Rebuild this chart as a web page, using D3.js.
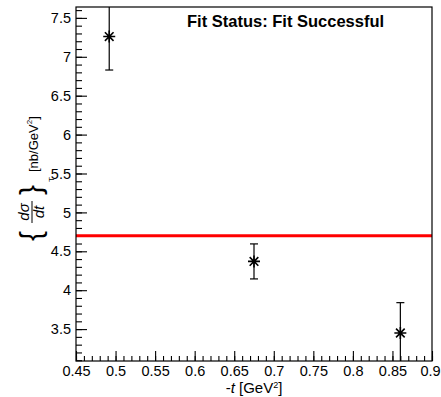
<!DOCTYPE html>
<html>
<head>
<meta charset="utf-8">
<script src="https://cdn.jsdelivr.net/npm/d3@7"></script>
<style>
	body { margin: 0; background: #fff; }
	svg { font-family: 'Liberation Sans', Arial, sans-serif; }
</style>
</head>
<body>
<svg id="chart" width="441" height="397"></svg>
<script>
// NOTE data
const tValues = [0.492, 0.675, 0.86];
const sigmaValues = [7.26, 4.37, 3.45];
const sigmaErrors = [0.43, 0.225, 0.39];
const fitLevel = [4.70];
const xTickLabels = [0.45, 0.5, 0.55, 0.6, 0.65, 0.7, 0.75, 0.8, 0.85, 0.9];
const yTickLabels = [3.5, 4, 4.5, 5, 5.5, 6, 6.5, 7, 7.5];
const xRange = [0.45, 0.9];
const yRange = [3.09, 7.64];
const fitStatus = 'Fit Status: Fit Successful';

const svg = d3.select('#chart'),
	margin = { top: 7, right: 9, bottom: 36, left: 76 },
	width = +svg.attr('width') - margin.left - margin.right,
	height = +svg.attr('height') - margin.top - margin.bottom;

const x = d3.scaleLinear().domain(xRange).range([0, width]);
const y = d3.scaleLinear().domain(yRange).range([height, 0]);

const g = svg
	.append('g')
	.attr('transform', 'translate(' + margin.left + ',' + margin.top + ')');

g.append('clipPath')
	.attr('id', 'clip')
	.append('rect')
	.attr('width', width)
	.attr('height', height);

// minor ticks
const xMinor = d3.range(45, 91).map((v) => v / 100);
const yMinor = d3.range(31, 77).map((v) => v / 10).filter((v) => v >= yRange[0] && v <= yRange[1]);

g.append('g')
	.attr('transform', 'translate(0,' + height + ')')
	.call(d3.axisBottom(x).tickValues(xMinor).tickSize(-5).tickFormat(''));
g.append('g')
	.call(d3.axisLeft(y).tickValues(yMinor).tickSize(-6).tickFormat(''));

// major ticks
const xAxis = g
	.append('g')
	.attr('transform', 'translate(0,' + height + ')')
	.call(d3.axisBottom(x).tickValues(xTickLabels).tickSize(-10).tickPadding(5).tickFormat(d3.format('')));
g.append('g')
	.call(d3.axisLeft(y).tickValues(yTickLabels).tickSize(-11).tickPadding(5).tickFormat(d3.format('')));

svg.selectAll('.domain').remove();
svg.selectAll('.tick line').attr('stroke', '#000').attr('stroke-width', 1.1);
svg.selectAll('.tick text')
	.attr('fill', '#000')
	.style('font-size', '14.5px')
	.style('font-family', "'Liberation Sans', Arial, sans-serif");

// last label sits at the window edge, nudge it in
xAxis.selectAll('.tick text')
	.filter((d) => d === xRange[1])
	.attr('dx', -2);

// fit line
const plot = g.append('g').attr('clip-path', 'url(#clip)');

plot.selectAll('.fit')
	.data(fitLevel)
	.enter()
	.append('line')
	.attr('class', 'fit')
	.attr('x1', 0)
	.attr('x2', width)
	.attr('y1', (d) => y(d))
	.attr('y2', (d) => y(d))
	.attr('stroke', '#ff0000')
	.attr('stroke-width', 3);

// points with error bars
const pts = tValues.map((t, i) => ({ t: t, s: sigmaValues[i], e: sigmaErrors[i] }));

const pg = plot.selectAll('.pt')
	.data(pts)
	.enter()
	.append('g')
	.attr('class', 'pt')
	.attr('stroke', '#000')
	.attr('stroke-width', 1.2);

pg.append('line')
	.attr('x1', (d) => x(d.t))
	.attr('x2', (d) => x(d.t))
	.attr('y1', (d) => y(d.s - d.e))
	.attr('y2', (d) => y(d.s + d.e));
pg.append('line')
	.attr('x1', (d) => x(d.t) - 4)
	.attr('x2', (d) => x(d.t) + 4)
	.attr('y1', (d) => y(d.s - d.e))
	.attr('y2', (d) => y(d.s - d.e));
pg.append('line')
	.attr('x1', (d) => x(d.t) - 4)
	.attr('x2', (d) => x(d.t) + 4)
	.attr('y1', (d) => y(d.s + d.e))
	.attr('y2', (d) => y(d.s + d.e));

// asterisk marker
const r = 6;
pg.append('path')
	.attr('stroke-width', 1.6)
	.attr('d', function (d) {
		var cx = x(d.t), cy = y(d.s), k = r * 0.72;
		return 'M' + (cx - r) + ',' + cy + 'H' + (cx + r) +
			'M' + cx + ',' + (cy - r) + 'V' + (cy + r) +
			'M' + (cx - k) + ',' + (cy - k) + 'L' + (cx + k) + ',' + (cy + k) +
			'M' + (cx - k) + ',' + (cy + k) + 'L' + (cx + k) + ',' + (cy - k);
	});

// frame
g.append('rect')
	.attr('width', width)
	.attr('height', height)
	.attr('fill', 'none')
	.attr('stroke', '#000')
	.attr('stroke-width', 1.2);

// fit status
svg.append('text')
	.attr('x', 187)
	.attr('y', 27)
	.attr('font-size', 16.5)
	.attr('font-weight', 'bold')
	.text(fitStatus);

// x title
const xt = svg.append('text')
	.attr('x', margin.left + width / 2)
	.attr('y', 393)
	.attr('text-anchor', 'middle')
	.attr('font-size', 15);
xt.append('tspan').text('-');
xt.append('tspan').attr('font-style', 'italic').text('t');
xt.append('tspan').text(' [GeV');
xt.append('tspan').attr('font-size', 9).attr('dy', -5).text('2');
xt.append('tspan').attr('dy', 5).text(']');

// y title (rotated)
const yt = svg.append('g').attr('transform', 'rotate(-90)');
yt.append('text').attr('x', -241).attr('y', 41).attr('font-size', 30).attr('font-weight', 300).text('{');
const fx = -212;
yt.append('text').attr('x', fx).attr('y', 29).attr('text-anchor', 'middle')
	.attr('font-size', 15).attr('font-style', 'italic').text('d\u03c3');
yt.append('line').attr('x1', fx - 11).attr('x2', fx + 11).attr('y1', 32).attr('y2', 32)
	.attr('stroke', '#000').attr('stroke-width', 1);
yt.append('text').attr('x', fx).attr('y', 44).attr('text-anchor', 'middle')
	.attr('font-size', 15).attr('font-style', 'italic').text('dt');
yt.append('text').attr('x', -195).attr('y', 41).attr('font-size', 30).attr('font-weight', 300).text('}');
yt.append('text').attr('x', -182).attr('y', 54).attr('font-size', 8).text('T');
const yu = yt.append('text').attr('x', -172).attr('y', 38).attr('font-size', 13);
yu.append('tspan').text('[nb/GeV');
yu.append('tspan').attr('font-size', 8).attr('dy', -6).text('2');
yu.append('tspan').attr('dy', 6).text(']');
</script>
</body>
</html>
